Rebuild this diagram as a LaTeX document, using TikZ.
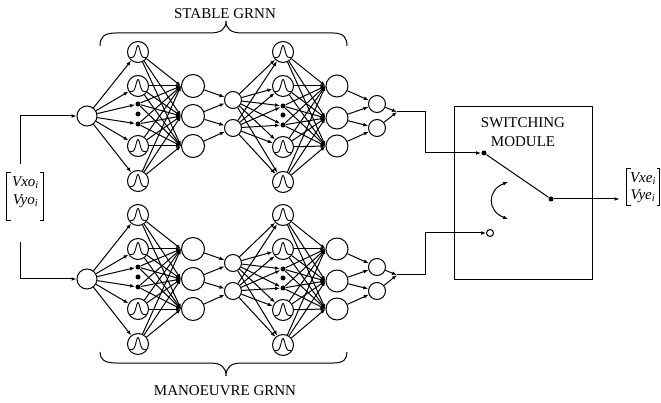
\documentclass[tikz,border=0pt]{standalone}
\usepackage{fontspec}
\setmainfont{Liberation Serif}
\usetikzlibrary{arrows.meta}
\tikzset{
  arr/.style={-{Latex[length=5pt,width=3.8pt]}},
  nd/.style={circle,draw,inner sep=0pt,minimum size=#1},
  gauss/.style={circle,draw,inner sep=0pt,minimum size=21pt,
    path picture={\draw[line width=0.9pt,shift={(path picture bounding box.center)}]
      plot[domain=-8.5:8.5,samples=45,smooth] (\x,{5.5-12*exp(0-(\x/2.7)*(\x/2.7))});}},
  dotn/.style={circle,fill,inner sep=0pt,minimum size=5pt},
  odot/.style={circle,draw,inner sep=0pt,minimum size=7pt},
  lbl/.style={font=\fontsize{15}{19}\selectfont,align=center,inner sep=0pt},
  vec/.style={font=\fontsize{15}{17}\selectfont\itshape,inner sep=0pt},
}
\newcommand\grnnnet[2]{%
\begin{scope}[shift={(0,#2)}]
\node[nd=20pt] (#1in) at (87,116) {};
\foreach \n/\yy in {g1/52,g2/86,g3/146,g4/181} \node[gauss] (#1\n) at (138,\yy) {};
\foreach \n/\yy in {d1/104,d2/114,d3/124} \node[dotn] (#1\n) at (138,\yy) {};
\foreach \n/\yy in {s1/86,s2/116,s3/146} \node[nd=23pt] (#1\n) at (193,\yy) {};
\foreach \n/\yy in {m1/100,m2/128} \node[nd=17pt] (#1\n) at (233,\yy) {};
\foreach \n/\yy in {h1/52,h2/86,h3/147,h4/182} \node[gauss] (#1\n) at (283,\yy) {};
\foreach \n/\yy in {e1/106,e2/115,e3/125} \node[dotn] (#1\n) at (283,\yy) {};
\foreach \n/\yy in {u1/86,u2/118,u3/146} \node[nd=22pt] (#1\n) at (337,\yy) {};
\foreach \n/\yy in {o1/104,o2/128} \node[nd=17pt] (#1\n) at (377,\yy) {};
\coordinate (#1out) at (397,112);
\end{scope}
\foreach \t in {g1,g2,d1,d3,g3,g4} \draw[arr] (#1in) -- (#1\t);
\foreach \a in {g1,g2,d1,d3,g3,g4} \foreach \b in {s1,s2,s3} \draw[arr] (#1\a) -- (#1\b.west);
\foreach \a/\b in {s1/m1,s2/m1,s2/m2,s3/m2} \draw[arr] (#1\a) -- (#1\b);
\foreach \a in {m1,m2} \foreach \b in {h1,h2,e1,e3,h3,h4} \draw[arr] (#1\a) -- (#1\b);
\foreach \a in {h1,h2,e1,e3,h3,h4} \foreach \b in {u1,u2,u3} \draw[arr] (#1\a) -- (#1\b.west);
\foreach \a/\b in {u1/o1,u2/o1,u2/o2,u3/o2} \draw[arr] (#1\a) -- (#1\b);
\foreach \a in {o1,o2} \draw[arr] (#1\a) -- (#1out);
}
\begin{document}
\begin{tikzpicture}[x=1pt,y=-1pt,line width=1pt]
\useasboundingbox (0,0) rectangle (661,403);
\grnnnet{t}{0}
\grnnnet{b}{163}
% braces
\draw (100,46) .. controls (100,37) and (104,33) .. (116,33) -- (210,33)
  .. controls (221,33) and (226,29) .. (226,21)
  .. controls (226,29) and (231,33) .. (242,33) -- (333,33)
  .. controls (344,33) and (347,38) .. (347,46);
\draw (100,352) .. controls (100,359) and (104,363) .. (116,363) -- (210,363)
  .. controls (221,363) and (226,367) .. (226,376)
  .. controls (226,367) and (231,363) .. (242,363) -- (333,363)
  .. controls (344,363) and (347,359) .. (347,352);
\node[lbl] (tl) at (225,14) {STABLE GRNN};
\node[lbl] (bl) at (225,391) {MANOEUVRE GRNN};
% input vector
\node[minimum width=36pt,minimum height=47pt,inner sep=0pt] (vin) at (25,196.5) {};
\draw ([xshift=4pt]vin.north west) -| (vin.south west) -- ++(4,0);
\draw ([xshift=-4pt]vin.north east) -| (vin.south east) -- ++(-4,0);
\node[vec] (vx) at (25.5,183) {Vxo\textsubscript{\textit{i}}};
\node[vec] (vy) at (25.5,201) {Vyo\textsubscript{\textit{i}}};
\draw[arr] ([xshift=-5pt,yshift=8pt]vin.north) |- (tin);
\draw[arr] ([xshift=-5pt,yshift=-22pt]vin.south) |- (bin);
% switching module
\node[draw,minimum width=138pt,minimum height=173pt,inner sep=0pt] (box) at (523,193.5) {};
\node[lbl] (swl) at (523,132.5) {SWITCHING\\MODULE};
\node[dotn] (sw1) at (484,153) {};
\node[odot] (sw2) at (490,233) {};
\node[dotn] (sw3) at (551,199) {};
\draw (sw1) -- (sw3);
\draw[{Latex[length=5pt,width=3.8pt]}-{Latex[length=5pt,width=3.8pt]}] (508,182) .. controls (487,190) and (487,211) .. (508,219);
\draw[arr] (tout) -- ++(28,0) |- (sw1);
\draw[arr] (bout) -- ++(28,0) |- (sw2);
% output vector
\node[minimum width=32pt,minimum height=36pt,inner sep=0pt] (vout) at (643,187.5) {};
\draw ([xshift=4pt]vout.north west) -| (vout.south west) -- ++(4,0);
\draw ([xshift=-3pt]vout.north east) -| (vout.south east) -- ++(-3,0);
\node[vec] (vxe) at (643,179) {Vxe\textsubscript{\textit{i}}};
\node[vec] (vye) at (643,196) {Vye\textsubscript{\textit{i}}};
\draw[arr,shorten >=7pt] (sw3) -- (sw3 -| vout.west);
\end{tikzpicture}
\end{document}
